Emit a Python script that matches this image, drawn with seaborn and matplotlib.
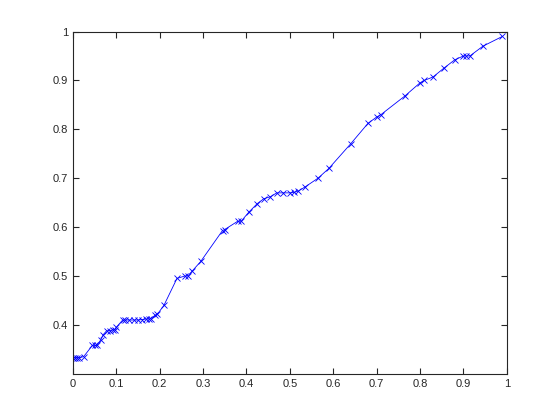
import pandas as pd
import seaborn as sns
import matplotlib.pyplot as plt

# values
x_vals = [0.0, 0.005, 0.01, 0.015, 0.025, 0.045, 0.05, 0.055, 0.065, 0.07,
          0.078, 0.085, 0.092, 0.097, 0.1, 0.115, 0.12, 0.13, 0.14, 0.15,
          0.16, 0.168, 0.175, 0.18, 0.19, 0.195, 0.21, 0.24, 0.258, 0.265,
          0.275, 0.295, 0.345, 0.35, 0.38, 0.388, 0.405, 0.425, 0.44, 0.455,
          0.47, 0.485, 0.5, 0.51, 0.52, 0.535, 0.565, 0.59, 0.64, 0.68,
          0.70, 0.71, 0.765, 0.80, 0.81, 0.83, 0.855, 0.88, 0.90, 0.905,
          0.915, 0.945, 0.99]
y_vals = [0.333, 0.333, 0.333, 0.333, 0.335, 0.358, 0.358, 0.358, 0.37, 0.38,
          0.388, 0.388, 0.39, 0.39, 0.395, 0.41, 0.41, 0.41, 0.41, 0.41,
          0.411, 0.412, 0.412, 0.413, 0.42, 0.422, 0.44, 0.495, 0.50, 0.50,
          0.51, 0.53, 0.593, 0.595, 0.612, 0.612, 0.63, 0.648, 0.658, 0.662,
          0.67, 0.67, 0.67, 0.671, 0.674, 0.682, 0.70, 0.72, 0.77, 0.812,
          0.825, 0.83, 0.868, 0.895, 0.90, 0.907, 0.925, 0.942, 0.95, 0.95,
          0.95, 0.97, 0.99]

df = pd.DataFrame({"x": x_vals, "y": y_vals})

sns.set_style("ticks")
plt.rcParams["font.family"] = ["Liberation Sans", "DejaVu Sans"]

fig = plt.figure(figsize=(5.6, 4.2), dpi=100)
ax = fig.add_axes([0.13, 0.11, 0.775, 0.815])

sns.lineplot(data=df, x="x", y="y", ax=ax, color="blue", marker="x",
             markersize=5, markeredgewidth=0.6, markeredgecolor="blue",
             linewidth=0.6, sort=False)

ax.set_xlim(0, 1)
ax.set_ylim(0.3, 1)
ax.set_xticks([i / 10 for i in range(11)])
ax.set_xticklabels(["0", "0.1", "0.2", "0.3", "0.4", "0.5", "0.6", "0.7", "0.8", "0.9", "1"])
ax.set_yticks([0.4, 0.5, 0.6, 0.7, 0.8, 0.9, 1.0])
ax.set_yticklabels(["0.4", "0.5", "0.6", "0.7", "0.8", "0.9", "1"])
ax.tick_params(direction="in", top=True, right=True, labelsize=8, length=4, width=0.8)
ax.set_xlabel("")
ax.set_ylabel("")
for s in ax.spines.values():
    s.set_visible(True)
    s.set_linewidth(0.8)

fig.savefig("out.png", dpi=100)
